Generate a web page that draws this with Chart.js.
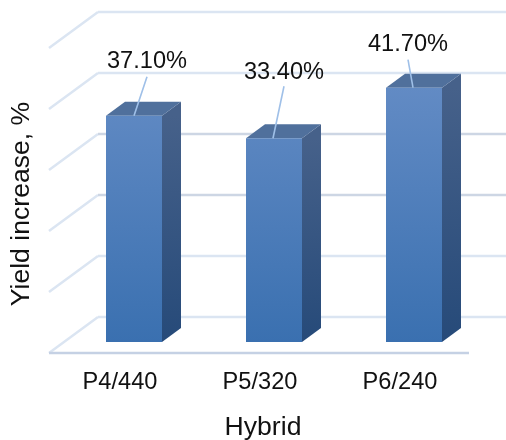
<!DOCTYPE html>
<html>
<head>
<meta charset="utf-8">
<style>
  html, body { margin: 0; padding: 0; background: #fff; }
  #wrap { width: 506px; height: 440px; }
</style>
<script src="https://cdn.jsdelivr.net/npm/chart.js@4/dist/chart.umd.min.js"></script>
</head>
<body>
<div id="wrap"><canvas id="chart" width="506" height="440"></canvas></div>
<script>
const categories = ['P4/440', 'P5/320', 'P6/240'];
const yieldIncrease = [37.1, 33.4, 41.7];
const valueLabels = ['37.10%', '33.40%', '41.70%'];
const xTitle = 'Hybrid';
const yTitle = 'Yield increase, %';

const FONT = '"Liberation Sans", Arial, sans-serif';
const FONT_SIZE = 23.6;
const TITLE_SIZE = 26.6;
const TEXT = '#111111';

// fake 3D look: wall and floor are shifted from the bars' front plane
const WALL_DX = 34, WALL_DY = -25;
const FLOOR_DX = -15, FLOOR_DY = 11;
const BAR_DX = 19, BAR_DY = -14;
// leader line end and label centre relative to the top of each bar
const LEADERS = [
  { fromX: 0, toX: 13, toY: -39, labelX: 13, labelY: -54 },
  { fromX: -1, toX: 10, toY: -52, labelX: 10, labelY: -66 },
  { fromX: -1, toX: -6, toY: -28, labelX: -6, labelY: -43 },
];

function verticalGradient(ctx, top, bottom, from, to) {
  const g = ctx.createLinearGradient(0, top, 0, bottom);
  g.addColorStop(0, from);
  g.addColorStop(1, to);
  return g;
}

const wallPlugin = {
  id: 'wall',
  beforeDatasetsDraw(chart) {
    const { ctx, scales, chartArea } = chart;
    const y = scales.y;
    const wallLeft = chartArea.left + WALL_DX;
    const floorLeft = chartArea.left + FLOOR_DX;
    ctx.save();
    ctx.lineWidth = 2.5;
    y.ticks.forEach((tick) => {
      const py = y.getPixelForValue(tick.value);
      ctx.strokeStyle = '#dbe5f2';
      ctx.beginPath();
      ctx.moveTo(floorLeft, py + FLOOR_DY);
      ctx.lineTo(wallLeft, py + WALL_DY);
      ctx.stroke();
      ctx.strokeStyle = (tick.value === 20 || tick.value === 30) ? '#cdd6e4' : '#dbe5f2';
      ctx.beginPath();
      ctx.moveTo(wallLeft, py + WALL_DY);
      ctx.lineTo(chart.width, py + WALL_DY);
      ctx.stroke();
    });
    // front edge of the floor
    const base = y.getPixelForValue(0) + FLOOR_DY;
    ctx.strokeStyle = '#c5d1e4';
    ctx.beginPath();
    ctx.moveTo(floorLeft, base);
    ctx.lineTo(chartArea.right + FLOOR_DX, base);
    ctx.stroke();

    // side and top faces of the bars
    chart.getDatasetMeta(0).data.forEach((bar) => {
      const r = bar.x + bar.width / 2;
      const l = bar.x - bar.width / 2;
      ctx.fillStyle = verticalGradient(ctx, bar.y, bar.base, '#46618a', '#264a79');
      ctx.beginPath();
      ctx.moveTo(r, bar.y);
      ctx.lineTo(r + BAR_DX, bar.y + BAR_DY);
      ctx.lineTo(r + BAR_DX, bar.base + BAR_DY);
      ctx.lineTo(r, bar.base);
      ctx.closePath();
      ctx.fill();
      ctx.fillStyle = '#50709c';
      ctx.beginPath();
      ctx.moveTo(l, bar.y);
      ctx.lineTo(l + BAR_DX, bar.y + BAR_DY);
      ctx.lineTo(r + BAR_DX, bar.y + BAR_DY);
      ctx.lineTo(r, bar.y);
      ctx.closePath();
      ctx.fill();
    });
    ctx.restore();
  },
};

const labelPlugin = {
  id: 'leaderLabels',
  afterDatasetsDraw(chart) {
    const { ctx, chartArea } = chart;
    ctx.save();
    ctx.fillStyle = TEXT;
    ctx.textAlign = 'center';
    ctx.textBaseline = 'middle';
    chart.getDatasetMeta(0).data.forEach((bar, i) => {
      const o = LEADERS[i];
      ctx.strokeStyle = '#9fc0e8';
      ctx.lineWidth = 1.6;
      ctx.beginPath();
      ctx.moveTo(bar.x + o.fromX, bar.y);
      ctx.lineTo(bar.x + o.toX, bar.y + o.toY);
      ctx.stroke();
      ctx.font = FONT_SIZE + 'px ' + FONT;
      ctx.fillText(valueLabels[i], bar.x + o.labelX, bar.y + o.labelY);
    });
    // axis titles do not sit at the middle of the axes, so they are placed by hand
    ctx.font = TITLE_SIZE + 'px ' + FONT;
    ctx.fillText(xTitle, 263, 428);
    ctx.translate(22, chartArea.bottom - 138);
    ctx.rotate(-Math.PI / 2);
    ctx.fillText(yTitle, 0, 0);
    ctx.restore();
  },
};

new Chart(document.getElementById('chart'), {
  type: 'bar',
  data: {
    labels: categories,
    datasets: [{
      data: yieldIncrease,
      categoryPercentage: 1,
      barPercentage: 0.4,
      backgroundColor(c) {
        const a = c.chart.chartArea;
        if (!a || !c.element) return '#4f81bd';
        return verticalGradient(c.chart.ctx, c.element.y || a.top, c.chart.scales.y.getPixelForValue(0), '#6a90c8', '#3a70b0');
      },
      borderWidth: 0,
    }],
  },
  options: {
    responsive: false,
    animation: false,
    events: [],
    layout: { padding: { top: 37, left: 0, right: 22, bottom: 0 } },
    plugins: { legend: { display: false }, tooltip: { enabled: false }, title: { display: false } },
    scales: {
      x: {
        grid: { display: false, drawTicks: false },
        border: { display: false },
        ticks: {
          maxRotation: 0,
          autoSkip: false,
          padding: 26,
          labelOffset: -14,
          color: TEXT,
          font: { family: FONT, size: FONT_SIZE },
        },
        afterFit(scale) { scale.height = 98; },
      },
      y: {
        min: 0,
        max: 50,
        grid: { display: false, drawTicks: false },
        border: { display: false },
        ticks: { stepSize: 10, display: false },
        afterFit(scale) { scale.width = 64; },
      },
    },
  },
  plugins: [wallPlugin, labelPlugin],
});
</script>
</body>
</html>
